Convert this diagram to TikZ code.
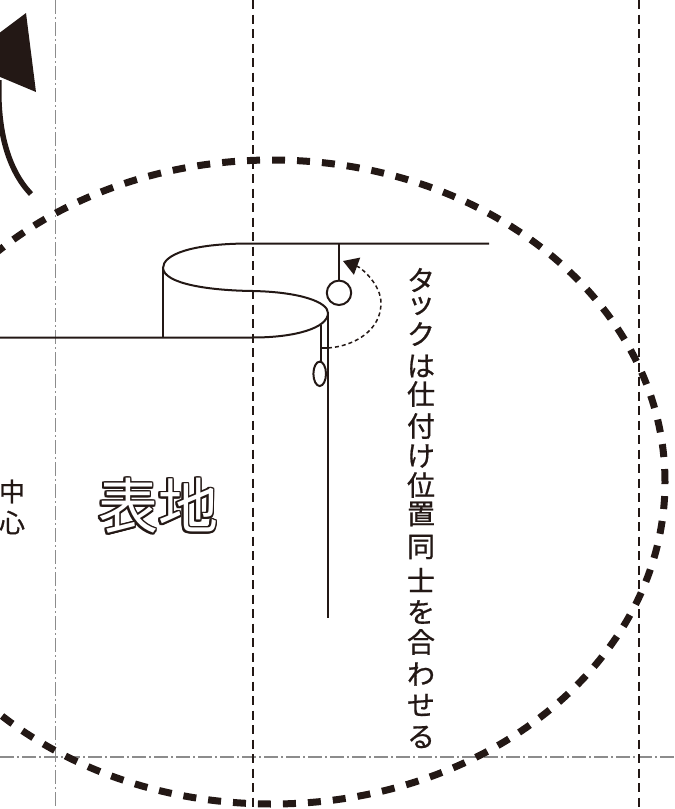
\documentclass[tikz,border=0pt]{standalone}
\usepackage{fontspec}
\newfontfamily\jp{Noto Sans CJK JP}
\newfontfamily\jpbold[FakeBold=0.7]{Noto Sans CJK JP}
\usetikzlibrary{arrows.meta}
\definecolor{ink}{RGB}{35,24,21}
\definecolor{guidegray}{RGB}{140,140,140}
\tikzset{
  guide/.style={guidegray, line width=1.7pt, dash pattern=on 14pt off 3pt on 2pt off 3pt},
  foldline/.style={ink, line width=2.2pt, dash pattern=on 9pt off 5.5pt},
  cloth/.style={ink, line width=2pt},
  zoomring/.style={ink, line width=7pt, dash pattern=on 13pt off 12pt},
  turnarrow/.style={ink, line width=1.5pt, dash pattern=on 4pt off 3pt},
  tatechar/.style={ink, inner sep=0pt, font=\jpbold\fontsize{28}{28}\selectfont},
}
\begin{document}
\begin{tikzpicture}[x=1pt, y=-1pt]
\useasboundingbox (0,0) rectangle (675,809);
\clip (0,0) rectangle (675,809);

\draw[guide] (55.5,0) -- (55.5,809);
\draw[guide] (0,757) -- (675,757);
\draw[foldline] (253,0) -- (253,809);
\draw[foldline] (639,0) -- (639,809);

\draw[ink, line width=5.5pt] (31,194) .. controls (8,170) and (-3,130) .. (-1,80);
\fill[ink] (26,13) -- (36,92) -- (-38,61) -- cycle;

\draw[cloth] (489,243.5) -- (250,243.5) .. controls (190,243.5) and (163,255) .. (163,268)
  .. controls (164,284) and (210,290.5) .. (253,291)
  .. controls (300,292) and (328,302) .. (328,313)
  .. controls (328,328) and (295,337.5) .. (253,337.5) -- (-5,337.5);
\draw[cloth] (163,268) -- (163,337.5);
\draw[cloth] (328,313) -- (328,618);
\draw[cloth] (320.7,325) -- (320.7,361.7);
\draw[cloth] (319.7,373.8) ellipse [x radius=6.3pt, y radius=12.2pt];
\draw[cloth] (339,243.5) -- (339,280.6);
\draw[cloth] (339,292.8) circle [radius=12.2pt];

\draw[cloth] (320.7,348) -- (327,348);
\draw[turnarrow, -{Triangle[length=15pt, width=18pt]}] (328,348)
  .. controls (355,346) and (381,330) .. (381,303)
  .. controls (381,285) and (362,268) .. (343,261);

\draw[zoomring] (272,482) ellipse [x radius=393pt, y radius=322pt];

\node[tatechar, font=\jpbold\fontsize{26}{26}\selectfont] (cf1) at (12,491.5) {中};
\node[tatechar, font=\jpbold\fontsize{26}{26}\selectfont] (cf2) at (12,522.5) {心};

\foreach \ang in {0,22.5,...,337.5}
  \node[ink, font=\jp\fontsize{60}{60}\selectfont, inner sep=0pt, shift={(\ang:1.8pt)}] at (158,506) {表地};
\node[white, font=\jp\fontsize{60}{60}\selectfont, inner sep=0pt] (omote) at (158,506) {表地};

\foreach \ch/\yy [count=\i] in {タ/280, ッ/306, ク/334, は/366, 仕/394, 付/426, け/456, 位/485,
    置/514, 同/547, 士/580, を/612, 合/642, わ/674, せ/705, る/737}
  \node[tatechar] (tuck\i) at (421,\yy) {\ch};
\end{tikzpicture}
\end{document}
